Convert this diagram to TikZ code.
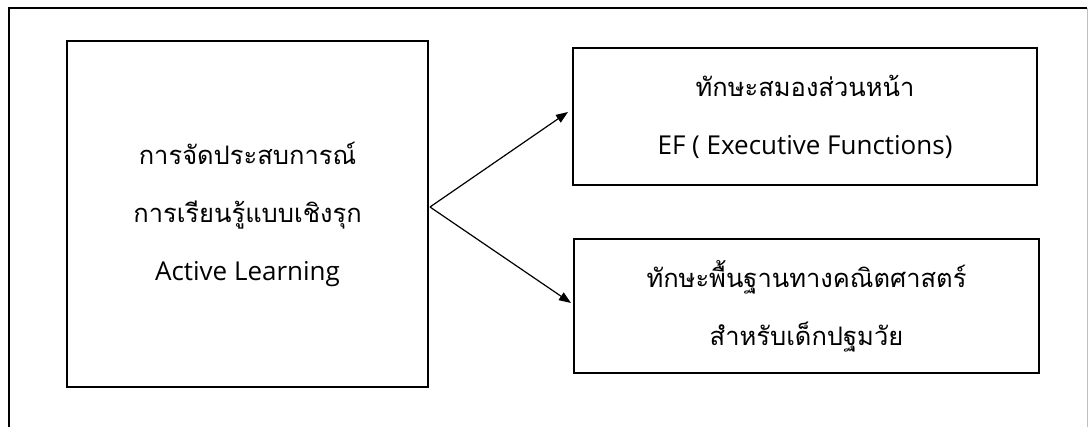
\documentclass[tikz,border=0pt]{standalone}
\usepackage{fontspec}
\setmainfont{Open Sans}
\newfontfamily\thaifont[Script=Thai]{Loma}
\newcommand{\thtext}[1]{{\thaifont\fontsize{25.5}{58}\selectfont #1}}
\usetikzlibrary{arrows.meta}
\begin{document}
\begin{tikzpicture}[x=1pt,y=-1pt,
  box/.style={draw,line width=1.3pt,minimum width=#1,inner sep=0pt,align=center,
    font=\fontsize{26}{58}\selectfont},
  conn/.style={line width=1.2pt,-{Triangle[length=12pt,width=9pt]}},
  frame/.style={line width=1.3pt}]
\useasboundingbox (0,0) rectangle (1088,427);
\draw[frame] (9,427) -- (9,8) -- (1087,8);
\draw[line width=0.6pt,black!25] (1087,8) -- (1087,427);
\node[box=361pt,minimum height=346pt] (act) at (247.5,214)
  {\thtext{การจัดประสบการณ์}\\\thtext{การเรียนรู้แบบเชิงรุก}\\Active Learning};
\node[box=464pt,minimum height=137pt] (ef) at (805,116.5)
  {\thtext{ทักษะสมองส่วนหน้า}\\EF ( Executive Functions)};
\node[box=465pt,minimum height=134pt] (math) at (806.5,306)
  {\thtext{ทักษะพื้นฐานทางคณิตศาสตร์}\\\thtext{สำหรับเด็กปฐมวัย}};
\coordinate (src) at (430,207);
\coordinate (t1) at (568,112);
\coordinate (t2) at (571,303);
\draw[conn] (src) -- (t1);
\draw[conn] (src) -- (t2);
\end{tikzpicture}
\end{document}
